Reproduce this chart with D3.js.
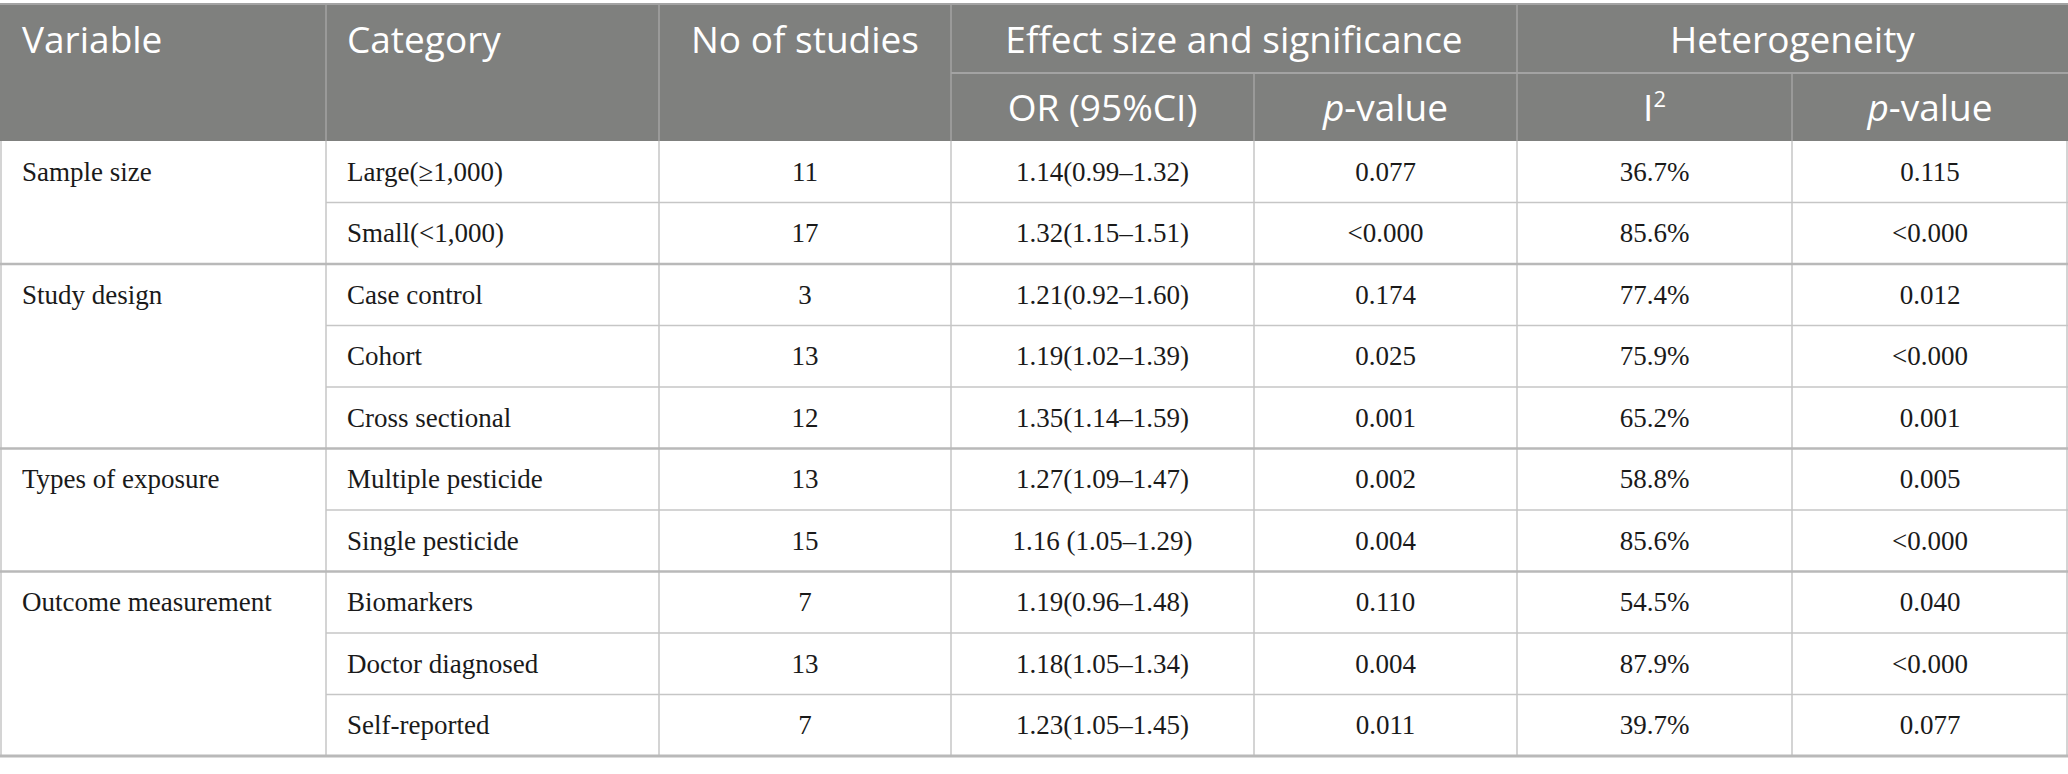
<!DOCTYPE html>
<html>
<head>
<meta charset="utf-8">
<script src="https://cdn.jsdelivr.net/npm/d3@7"></script>
<style>
  body { margin: 0; background: #fff; }
</style>
</head>
<body>
<div class="SubgroupTable"></div>
<script>
// table content
const variables = ["Sample size", "Study design", "Types of exposure", "Outcome measurement"]
const groupSizes = [2, 3, 2, 3]
const categories = ["Large(\u22651,000)", "Small(<1,000)", "Case control", "Cohort", "Cross sectional",
  "Multiple pesticide", "Single pesticide", "Biomarkers", "Doctor diagnosed", "Self-reported"]
const studies = [11, 17, 3, 13, 12, 13, 15, 7, 13, 7]
const orCI = ["1.14(0.99\u20131.32)", "1.32(1.15\u20131.51)", "1.21(0.92\u20131.60)", "1.19(1.02\u20131.39)",
  "1.35(1.14\u20131.59)", "1.27(1.09\u20131.47)", "1.16 (1.05\u20131.29)", "1.19(0.96\u20131.48)",
  "1.18(1.05\u20131.34)", "1.23(1.05\u20131.45)"]
const pEffect = ["0.077", "<0.000", "0.174", "0.025", "0.001", "0.002", "0.004", "0.110", "0.004", "0.011"]
const i2 = ["36.7%", "85.6%", "77.4%", "75.9%", "65.2%", "58.8%", "85.6%", "54.5%", "87.9%", "39.7%"]
const pHet = ["0.115", "<0.000", "0.012", "<0.000", "0.001", "0.005", "<0.000", "0.040", "<0.000", "0.077"]

const width = 2068
const height = 774
const colEdges = [0, 326, 659, 951, 1254, 1517, 1792, 2068]
const headTop = 4, headMid = 73, headBottom = 141, tableBottom = 756
const headFill = "#7f807e"
const headLine = "#a3a3a3"
const gridLine = "#c6c6c6"
const groupLine = "#b9b9b9"
const sans = "'Open Sans', 'Noto Sans', sans-serif"
const serif = "'Liberation Serif', 'Times New Roman', serif"

const rows = d3.range(categories.length)
let y = d3.scaleBand()
  .domain(rows)
  .range([headBottom, tableBottom])

// first row of each variable group
let groupStart = []
groupSizes.reduce((acc, n) => { groupStart.push(acc); return acc + n }, 0)

const svg = d3.select(".SubgroupTable").append("svg")
  .attr("width", width)
  .attr("height", height)
  .attr("viewBox", [0, 0, width, height])

svg.append("rect").attr("width", width).attr("height", height).attr("fill", "#fff")

// header background
svg.append("rect")
  .attr("x", 0).attr("y", headTop)
  .attr("width", width).attr("height", headBottom - headTop)
  .attr("fill", headFill)

// header lines
svg.append("line")
  .attr("x1", 0).attr("x2", width).attr("y1", headTop).attr("y2", headTop)
  .attr("stroke", headLine).attr("stroke-width", 2)
svg.append("line")
  .attr("x1", colEdges[3]).attr("x2", width).attr("y1", headMid).attr("y2", headMid)
  .attr("stroke", headLine).attr("stroke-width", 2)
svg.append("g")
  .selectAll("line")
  .data([1, 2, 3, 5])
  .join("line")
    .attr("x1", i => colEdges[i]).attr("x2", i => colEdges[i])
    .attr("y1", headTop).attr("y2", headBottom)
    .attr("stroke", headLine).attr("stroke-width", 1.5)
svg.append("g")
  .selectAll("line")
  .data([4, 6])
  .join("line")
    .attr("x1", i => colEdges[i]).attr("x2", i => colEdges[i])
    .attr("y1", headMid).attr("y2", headBottom)
    .attr("stroke", headLine).attr("stroke-width", 1.5)

// header text
const head = svg.append("g")
  .attr("fill", "#fff")
  .attr("font-family", sans)
  .attr("font-size", 37)
const mid = (a, b) => (colEdges[a] + colEdges[b]) / 2
head.append("text").attr("x", 22).attr("y", 53).text("Variable")
head.append("text").attr("x", colEdges[1] + 21).attr("y", 53).text("Category")
head.append("text").attr("x", mid(2, 3)).attr("y", 53).attr("text-anchor", "middle").text("No of studies")
head.append("text").attr("x", mid(3, 5)).attr("y", 53).attr("text-anchor", "middle").text("Effect size and significance")
head.append("text").attr("x", mid(5, 7)).attr("y", 53).attr("text-anchor", "middle").text("Heterogeneity")
head.append("text").attr("x", mid(3, 4)).attr("y", 121).attr("text-anchor", "middle").text("OR (95%CI)")
let pv = head.selectAll(".pv")
  .data([[4, 5], [6, 7]])
  .join("text")
    .attr("class", "pv")
    .attr("x", d => mid(d[0], d[1])).attr("y", 121).attr("text-anchor", "middle")
pv.append("tspan").attr("font-style", "italic").text("p")
pv.append("tspan").text("-value")
let i2t = head.append("text").attr("x", mid(5, 6)).attr("y", 121).attr("text-anchor", "middle")
i2t.append("tspan").text("I")
i2t.append("tspan").attr("font-size", 22).attr("dy", -14).text("2")

// body grid: vertical lines
svg.append("g")
  .selectAll("line")
  .data(colEdges)
  .join("line")
    .attr("x1", d => Math.min(Math.max(d, 1), width - 1))
    .attr("x2", d => Math.min(Math.max(d, 1), width - 1))
    .attr("y1", headBottom).attr("y2", tableBottom)
    .attr("stroke", gridLine).attr("stroke-width", 1.5)

// row lines within groups
svg.append("g")
  .selectAll("line")
  .data(rows.filter(r => r > 0 && !groupStart.includes(r)))
  .join("line")
    .attr("x1", colEdges[1]).attr("x2", width)
    .attr("y1", d => y(d)).attr("y2", d => y(d))
    .attr("stroke", gridLine).attr("stroke-width", 1.5)

// group separator lines and bottom rule
svg.append("g")
  .selectAll("line")
  .data(groupStart.filter(r => r > 0))
  .join("line")
    .attr("x1", 0).attr("x2", width)
    .attr("y1", d => y(d)).attr("y2", d => y(d))
    .attr("stroke", groupLine).attr("stroke-width", 2.5)
svg.append("line")
  .attr("x1", 0).attr("x2", width).attr("y1", tableBottom).attr("y2", tableBottom)
  .attr("stroke", groupLine).attr("stroke-width", 3)

// body text
const body = svg.append("g")
  .attr("fill", "#1a1a1a")
  .attr("font-family", serif)
  .attr("font-size", 27)
const baseline = r => y(r) + y.bandwidth() / 2 + 9

body.append("g")
  .selectAll("text")
  .data(variables)
  .join("text")
    .attr("x", 22)
    .attr("y", (d, i) => baseline(groupStart[i]))
    .text(d => d)

body.append("g")
  .selectAll("text")
  .data(categories)
  .join("text")
    .attr("x", colEdges[1] + 21)
    .attr("y", (d, i) => baseline(i))
    .text(d => d)

const centred = [[studies, 2], [orCI, 3], [pEffect, 4], [i2, 5], [pHet, 6]]
centred.forEach(([vals, c]) => {
  body.append("g")
    .attr("text-anchor", "middle")
    .selectAll("text")
    .data(vals)
    .join("text")
      .attr("x", mid(c, c + 1))
      .attr("y", (d, i) => baseline(i))
      .text(d => d)
})
</script>
</body>
</html>
